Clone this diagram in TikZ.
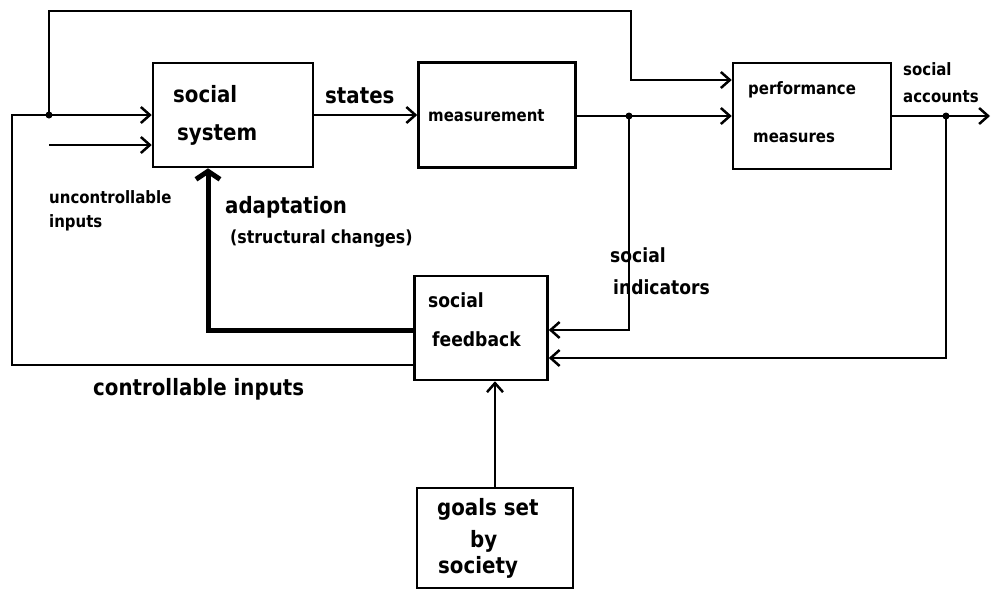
\documentclass[tikz,border=0pt]{standalone}
\usepackage{fontspec}
\setmainfont{DejaVu Sans}[FakeStretch=0.88]
\usepackage{tikz}
\usetikzlibrary{arrows.meta}
\tikzset{>={Straight Barb[length=9pt,width=16pt]}}
\tikzset{
  box/.style={draw, line width=2.5pt, inner sep=0pt},
  wire/.style={line width=2.5pt},
  fatwire/.style={line width=5pt, >={Straight Barb[length=8pt,width=24pt]}},
  bigtxt/.style={anchor=base west, inner sep=0pt, font=\bfseries\fontsize{22.5}{26}\selectfont},
  midtxt/.style={anchor=base west, inner sep=0pt, font=\bfseries\fontsize{19.5}{23}\selectfont},
  smalltxt/.style={anchor=base west, inner sep=0pt, font=\bfseries\fontsize{17}{20}\selectfont},
}

\begin{document}
\begin{tikzpicture}[x=1pt, y=-1pt]
\useasboundingbox (0,0) rectangle (993,590);

% blocks
\node[box, minimum width=160pt, minimum height=104pt] (sys) at (233,115) {};
\node[box, minimum width=157pt, minimum height=105pt] (meas) at (497,115) {};
\node[box, minimum width=158pt, minimum height=106pt] (perf) at (812,116) {};
\node[box, minimum width=133pt, minimum height=104pt] (fb) at (481,328) {};
\node[box, minimum width=156pt, minimum height=100pt] (goals) at (495,538) {};

% texts
\node[bigtxt] (tsys1) at (173,102) {social};
\node[bigtxt] (tsys2) at (177,140) {system};
\node[bigtxt] (tstates) at (325,103) {states};
\node[smalltxt] (tmeas) at (428,121) {measurement};
\node[smalltxt] (tperf1) at (748,94) {performance};
\node[smalltxt] (tperf2) at (753,142) {measures};
\node[smalltxt] (tacc1) at (903,75) {social};
\node[smalltxt] (tacc2) at (903,102) {accounts};
\node[smalltxt] (tunc1) at (49,203) {uncontrollable};
\node[smalltxt] (tunc2) at (49,227) {inputs};
\node[bigtxt] (tadapt) at (225,213) {adaptation};
\node[smalltxt, font=\bfseries\fontsize{18}{21}\selectfont] (tstruct) at (230,243) {(structural changes)};
\node[bigtxt] (tctl) at (93,395) {controllable inputs};
\node[midtxt] (tfb1) at (428,307) {social};
\node[midtxt] (tfb2) at (432,346) {feedback};
\node[midtxt] (tind1) at (610,262) {social};
\node[midtxt] (tind2) at (613,294) {indicators};
\node[bigtxt] (tgoal1) at (437,515) {goals set};
\node[bigtxt] (tgoal2) at (470,547) {by};
\node[bigtxt] (tgoal3) at (438,573) {society};

% corner points
\coordinate (jin) at (49,115);
\coordinate (lc) at (12,115);
\coordinate (ctl) at (12,365);
\coordinate (uin) at (49,145);
\coordinate (tl) at (49,11);
\coordinate (tk) at (631,80);
\coordinate (jm) at (629,116);
\coordinate (ja) at (946,116);
\coordinate (out) at (990,116);
\coordinate (fbin1) at (629,330);
\coordinate (fbin2) at (946,358);
\coordinate (ad) at (208,330);

% signal paths
\draw[wire,->] (jin) -- (sys.west);
\draw[wire,->] (uin) -- (sys.west |- uin);
\draw[wire] (fb.west |- ctl) -- (ctl) -- (lc) -- (jin);
\draw[wire,->] (jin) -- (tl) -| (tk) -- (perf.west |- tk);
\draw[wire,->] (sys) -- (meas);
\draw[wire,->] (meas.east |- jm) -- (perf.west |- jm);
\draw[wire,->] (perf.east |- out) -- (out);
\draw[wire,->] (jm) -- (fbin1) -- (fb.east |- fbin1);
\draw[wire,->] (ja) -- (fbin2) -- (fb.east |- fbin2);
\draw[wire,->] (goals.north) -- (goals.north |- fb.south);
\draw[fatwire,->] (fb.west |- ad) -| (sys.south -| ad);

% branch dots
\fill (jin) circle (3.5pt);
\fill (jm) circle (3.5pt);
\fill (ja) circle (3.5pt);
\end{tikzpicture}
\end{document}
